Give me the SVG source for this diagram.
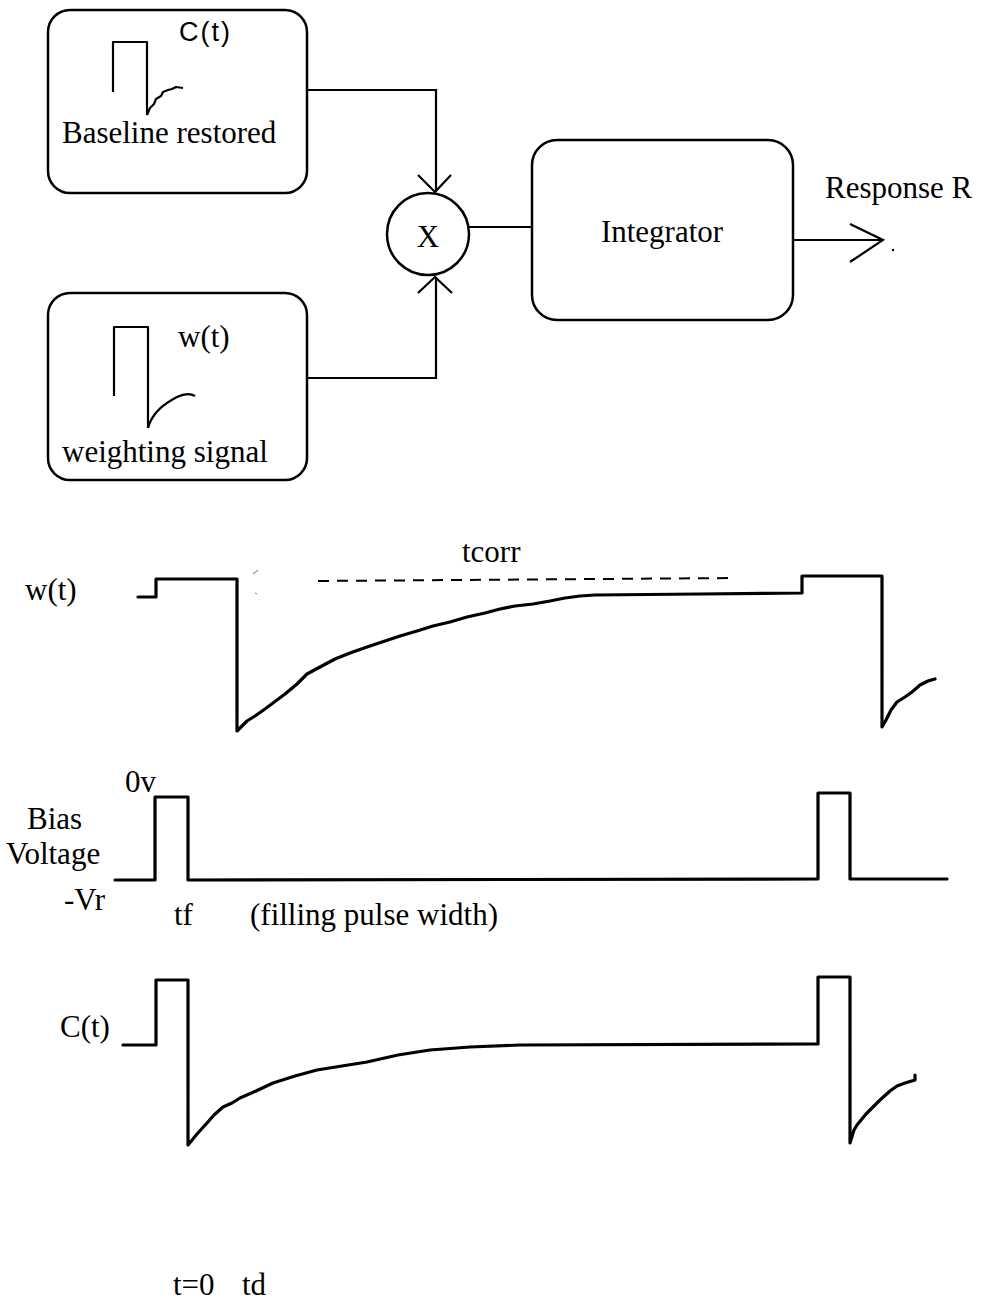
<svg xmlns="http://www.w3.org/2000/svg" width="982" height="1302" viewBox="0 0 982 1302">
<style>
.box{fill:none;stroke:#000;stroke-width:2.5}
.wire{fill:none;stroke:#000;stroke-width:2.2}
.wave{fill:none;stroke:#000;stroke-width:3.2;stroke-linejoin:round;stroke-linecap:round}
.thin{fill:none;stroke:#000;stroke-width:2.2;stroke-linejoin:round}
.t{font-family:"Liberation Serif","Times New Roman",serif;font-size:31px;fill:#000}
.s{font-family:"Liberation Sans",Arial,sans-serif;font-size:27px;fill:#000}
</style>
<rect width="982" height="1302" fill="#fff"/>
<g id="connectors">
<polyline class="wire" points="307,90 436,90 436,192"/>
<polyline class="wire" points="418,175 435,192 451,175"/>
<polyline class="wire" points="307,378 436,378 436,277"/>
<polyline class="wire" points="418,293 435,277 452,293"/>
<line class="wire" x1="468" y1="227" x2="532" y2="227"/>
<line class="wire" x1="793" y1="240" x2="882" y2="240"/>
<polyline class="wire" points="850,224 883,240 850,262"/>
<circle cx="893" cy="250" r="1.2" fill="#000"/>
</g>
<g id="node-baseline">
<rect class="box" x="48" y="10" width="259" height="183" rx="22"/>
<polyline class="thin" points="113,92 113,42 147,42 147,115"/>
<path class="thin" d="M147,115 L150,108 L154,104 L156,99 L161,96 L163,92 L168,90 L172,89 L176,87 L183,88"/>
<text class="s" x="179" y="41" letter-spacing="2">C(t)</text>
<text class="t" x="62" y="143" font-size="33">Baseline restored</text>
</g>
<g id="node-weighting">
<rect class="box" x="48" y="293" width="259" height="187" rx="22"/>
<polyline class="thin" points="114,396 114,327 148,327 148,428"/>
<path class="thin" d="M148,428 C153,410 168,402 177,397 C185,393 190,393 195,396"/>
<text class="t" x="178" y="347">w(t)</text>
<text class="t" x="62" y="462" font-size="32">weighting signal</text>
</g>
<g id="node-multiplier">
<circle class="box" cx="428" cy="234" r="41"/>
<text class="t" x="428" y="247" text-anchor="middle" font-size="28">X</text>
</g>
<g id="node-integrator">
<rect class="box" x="532" y="140" width="261" height="180" rx="25"/>
<text class="t" x="662" y="242" text-anchor="middle" font-size="32">Integrator</text>
</g>
<g id="label-response">
<text class="t" x="825" y="198" font-size="32">Response R</text>
</g>
<g id="wave-w">
<text class="t" x="25" y="600">w(t)</text>
<text class="t" x="462" y="562">tcorr</text>
<line x1="318" y1="581" x2="736" y2="578" stroke="#000" stroke-width="2" stroke-dasharray="11,8"/>
<path class="wave" d="M138,597 L156,597 L156,579 L237,579 L237,731 L241,727 L247,721 L255,716 L265,709 L273,703 L285,694 L297,684 L307,674 L320,667 L335,659 L350,653 L367,647 L385,641 L400,636 L417,631 L433,626 L450,622 L467,617 L485,613 L500,609 L515,606 L533,604 L550,601 L565,598 L580,596 L595,595 L700,594 L802,593 L802,576 L882,576 L882,727 L886,720 L891,710 L897,702 L905,697 L912,692 L920,685 L928,681 L935,679"/>
<path d="M253,574 L258,570 M255,593 L257,594" stroke="#999" stroke-width="1.2" fill="none"/>
</g>
<g id="wave-bias">
<text class="t" x="125" y="792">0v</text>
<text class="t" x="27" y="829">Bias</text>
<text class="t" x="6" y="864" font-size="32">Voltage</text>
<text class="t" x="64" y="910">-Vr</text>
<text class="t" x="174" y="925">tf</text>
<text class="t" x="250" y="925">(filling pulse width)</text>
<path class="wave" d="M115,880 L155,880 L155,797 L188,797 L188,880 L818,879 L818,793 L850,793 L850,879 L947,879"/>
</g>
<g id="wave-c">
<text class="t" x="60" y="1037" font-size="28">C(t)</text>
<path class="wave" d="M123,1045 L156,1045 L156,980 L188,980 L188,1145 L197,1134 L207,1123 L214,1115 L223,1107 L232,1103 L240,1098 L256,1091 L273,1083 L295,1076 L317,1070 L342,1066 L367,1062 L398,1055 L430,1050 L470,1047 L520,1045 L818,1044 L818,977 L850,977 L850,1143 L854,1130 L857,1125 L866,1114 L880,1100 L890,1091 L897,1086 L905,1083 L915,1080 L915,1075"/>
</g>
<g id="axis-labels">
<text class="t" x="173" y="1295">t=0</text>
<text class="t" x="242" y="1295">td</text>
</g>
</svg>
